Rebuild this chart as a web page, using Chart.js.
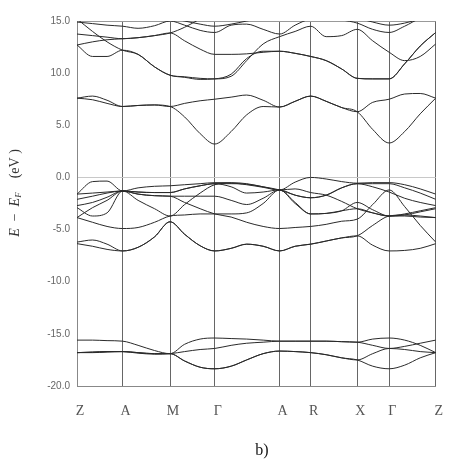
<!DOCTYPE html>
<html>
<head>
<meta charset="UTF-8">
<title>Band structure b)</title>
<script src="https://cdn.jsdelivr.net/npm/chart.js@4.4.1/dist/chart.umd.min.js"></script>
<style>
  html, body { margin: 0; padding: 0; background: #fff; }
  #wrap { width: 457px; height: 461px; position: relative; }
</style>
</head>
<body>
<div id="wrap"><canvas id="bands"></canvas></div>
<script>
// high-symmetry points along the path (path length units)
const kPos = [0, 47, 96, 142, 209, 241, 289, 322, 370];
const kLabels = ['Z', 'A', 'M', 'Γ', 'A', 'R', 'X', 'Γ', 'Z'];

// sample positions along the path, energies of every band are given at these
const kx = [0, 16, 31, 47, 63, 80, 96, 111, 127, 142, 159, 175, 192, 209, 225, 241, 257, 273, 289, 305, 322, 338, 354, 370];

const yTicks = [-20, -15, -10, -5, 0, 5, 10, 15];

// semicore bands (eV)
const s1 = [-15.6, -15.6, -15.65, -15.7, -16.1, -16.6, -16.9, -16.0, -15.5, -15.4, -15.45, -15.5, -15.6, -15.7, -15.7, -15.7, -15.7, -15.75, -15.8, -15.5, -15.4, -15.6, -16.1, -16.8];
const s2 = [-16.8, -16.8, -16.75, -16.7, -16.85, -16.95, -16.9, -16.7, -16.5, -16.4, -16.1, -15.9, -15.8, -15.7, -15.7, -15.7, -15.7, -15.75, -15.8, -16.1, -16.4, -16.2, -15.9, -15.6];
const s3 = [-16.8, -16.75, -16.7, -16.7, -16.8, -16.9, -16.9, -17.6, -18.2, -18.35, -18.1, -17.5, -16.9, -16.65, -16.7, -16.8, -17.0, -17.3, -17.5, -18.1, -18.35, -18.0, -17.3, -16.8];
const s4 = [-16.8, -16.75, -16.7, -16.7, -16.8, -16.9, -16.9, -17.6, -18.2, -18.35, -18.1, -17.5, -16.9, -16.65, -16.7, -16.8, -17.0, -17.3, -17.5, -16.9, -16.4, -16.5, -16.7, -16.8];

// valence bands (eV)
const v1 = [-1.6, -0.4, -0.35, -1.3, -1.0, -0.85, -0.8, -0.7, -0.6, -0.5, -0.5, -0.6, -0.9, -1.2, -0.45, 0.0, -0.15, -0.4, -0.55, -0.5, -0.5, -0.7, -1.1, -1.6];
const v2 = [-2.1, -1.8, -1.5, -1.3, -1.4, -1.45, -1.45, -1.1, -0.8, -0.6, -0.9, -1.5, -1.4, -1.2, -1.7, -1.95, -1.7, -1.0, -0.6, -0.6, -0.6, -1.0, -1.5, -2.1];
const v3 = [-1.6, -1.5, -1.4, -1.3, -1.6, -1.75, -1.8, -2.4, -3.0, -3.5, -3.8, -4.3, -4.7, -4.9, -4.8, -4.7, -4.5, -4.2, -4.0, -2.6, -1.2, -2.8, -4.6, -6.2];
const v4 = [-2.7, -2.4, -1.9, -1.3, -2.2, -3.0, -3.7, -2.6, -1.5, -0.7, -0.55, -0.7, -0.95, -1.2, -1.1, -1.45, -1.7, -2.3, -3.0, -3.4, -3.7, -3.5, -3.2, -2.9];
const v5 = [-2.9, -3.7, -3.4, -1.3, -1.6, -1.75, -1.8, -1.8, -1.8, -1.8, -2.2, -2.6, -2.0, -1.2, -2.5, -3.5, -3.45, -3.2, -2.4, -3.1, -3.7, -3.7, -3.8, -3.85];
const v6 = [-3.85, -2.9, -2.2, -1.3, -1.4, -1.45, -1.45, -1.1, -0.8, -0.6, -0.6, -0.65, -0.9, -1.2, -1.7, -1.95, -1.7, -1.0, -0.6, -0.9, -1.4, -2.0, -2.4, -2.7];
const v7 = [-3.85, -4.3, -4.7, -4.9, -4.8, -4.3, -3.7, -3.6, -3.5, -3.5, -3.5, -3.4, -2.5, -1.2, -2.4, -3.5, -3.45, -3.2, -3.0, -3.4, -3.7, -3.6, -3.3, -3.0];
const v8 = [-6.2, -6.0, -6.4, -7.05, -6.7, -5.7, -4.25, -5.45, -6.55, -7.05, -6.8, -6.4, -6.6, -7.05, -6.6, -6.4, -6.1, -5.8, -5.6, -4.6, -3.7, -3.6, -3.7, -3.85];
const v9 = [-6.35, -6.6, -6.9, -7.05, -6.7, -5.7, -4.25, -5.45, -6.55, -7.05, -6.8, -6.4, -6.6, -7.05, -6.6, -6.4, -6.1, -5.8, -5.6, -6.5, -7.05, -7.0, -6.8, -6.35];

// conduction bands (eV)
const c1 = [7.6, 7.45, 7.1, 6.8, 6.9, 6.95, 6.8, 5.8, 4.2, 3.2, 4.4, 6.0, 6.8, 6.75, 7.3, 7.8, 7.3, 6.7, 6.3, 4.6, 3.3, 4.4, 6.1, 7.6];
const c2 = [7.6, 7.8, 7.4, 6.8, 6.9, 6.95, 6.8, 7.1, 7.35, 7.5, 7.7, 7.9, 7.4, 6.75, 7.3, 7.8, 7.3, 6.7, 6.3, 7.2, 7.5, 8.0, 8.05, 7.6];
const c3 = [12.7, 11.6, 11.6, 12.2, 11.8, 10.6, 9.8, 9.6, 9.4, 9.45, 9.9, 11.4, 12.1, 12.1, 11.9, 11.6, 11.2, 10.4, 9.5, 9.45, 9.45, 10.9, 12.6, 13.9];
const c4 = [13.75, 13.6, 13.45, 13.3, 13.4, 13.6, 13.85, 13.1, 12.3, 11.8, 11.8, 11.85, 12.0, 12.1, 11.9, 11.6, 11.2, 10.4, 9.5, 9.45, 9.45, 10.9, 12.6, 13.9];
const c5 = [15.2, 14.0, 13.0, 12.2, 11.8, 10.6, 9.8, 9.65, 9.5, 9.45, 9.7, 11.2, 12.8, 13.5, 14.0, 14.5, 13.5, 13.6, 14.2, 13.1, 12.0, 11.2, 11.6, 12.8];
const c6 = [12.7, 13.0, 13.2, 13.3, 13.4, 13.6, 13.85, 14.4, 15.2, null, null, null, null, null, null, null, null, null, null, null, null, null, null, null];
const c7 = [14.9, 14.75, 14.6, 14.5, 14.3, 14.55, 15.0, 14.6, 14.1, 13.9, 14.6, 14.7, 14.2, 13.75, 14.6, 15.2, 15.3, 15.1, 14.8, 14.2, 13.9, 14.5, 15.2, 15.3];
const c8 = [null, null, null, null, null, null, 15.3, 15.0, 14.7, 14.5, 14.7, 15.0, 15.3, null, null, null, null, null, 15.3, 14.9, 14.6, 14.8, 15.2, null];

const bands = [s1, s2, s3, s4, v1, v2, v3, v4, v5, v6, v7, v8, v9, c1, c2, c3, c4, c5, c6, c7, c8];

const labelsPlugin = {
  id: 'labelsPlugin',
  afterDraw(chart) {
    const ctx = chart.ctx;
    ctx.save();
    ctx.fillStyle = '#333';
    ctx.textBaseline = 'middle';
    // rotated axis title: E − E_F (eV )
    ctx.translate(15, 193);
    ctx.rotate(-Math.PI / 2);
    const parts = [
      { t: 'E', f: 'italic 14px "Liberation Serif"', dy: 0 },
      { t: '  −  ', f: '14px "Liberation Serif"', dy: 0 },
      { t: 'E', f: 'italic 14px "Liberation Serif"', dy: 0 },
      { t: 'F', f: 'italic 9px "Liberation Serif"', dy: 4 },
      { t: '    (eV )', f: '14px "Liberation Serif"', dy: 0 }
    ];
    let total = 0;
    parts.forEach(p => { ctx.font = p.f; p.w = ctx.measureText(p.t).width; total += p.w; });
    let x = -total / 2;
    parts.forEach(p => { ctx.font = p.f; ctx.fillText(p.t, x, p.dy); x += p.w; });
    ctx.restore();

    ctx.save();
    ctx.fillStyle = '#111';
    ctx.font = '16px "Liberation Serif"';
    ctx.textAlign = 'center';
    ctx.textBaseline = 'middle';
    ctx.fillText('b)', 262, 451);
    ctx.restore();
  }
};

new Chart(document.getElementById('bands'), {
  type: 'line',
  data: {
    datasets: bands.map(b => ({
      data: kx.map((k, i) => ({ x: k, y: b[i] })),
      borderColor: '#2a2a2a',
      borderWidth: 1,
      pointRadius: 0,
      cubicInterpolationMode: 'monotone',
      fill: false
    }))
  },
  options: {
    responsive: true,
    maintainAspectRatio: false,
    animation: false,
    layout: { padding: { top: 21, right: 10, bottom: 35, left: 0 } },
    plugins: { legend: { display: false }, tooltip: { enabled: false } },
    scales: {
      x: {
        type: 'linear',
        min: 0,
        max: 370,
        afterBuildTicks: s => { s.ticks = kPos.map(v => ({ value: v })); },
        afterFit: s => { s.height = 40; },
        ticks: {
          autoSkip: false,
          maxRotation: 0,
          padding: 17,
          labelOffset: 3,
          color: '#555',
          font: { family: 'Liberation Serif', size: 14 },
          callback: (v, i) => kLabels[i]
        },
        grid: { color: '#666', lineWidth: 1, drawTicks: false },
        border: { color: '#888' }
      },
      y: {
        min: -20,
        max: 15,
        afterBuildTicks: s => { s.ticks = yTicks.map(v => ({ value: v })); },
        afterFit: s => { s.width = 77; },
        ticks: {
          padding: 7,
          color: '#666',
          font: { family: 'Liberation Sans', size: 10 },
          callback: v => v.toFixed(1)
        },
        grid: {
          drawTicks: false,
          lineWidth: 1,
          color: c => c.tick.value === 0 ? '#c8c8c8' : (c.tick.value === 15 || c.tick.value === -20 ? '#999' : 'rgba(0,0,0,0)')
        },
        border: { color: '#888' }
      }
    }
  },
  plugins: [labelsPlugin]
});
</script>
</body>
</html>
